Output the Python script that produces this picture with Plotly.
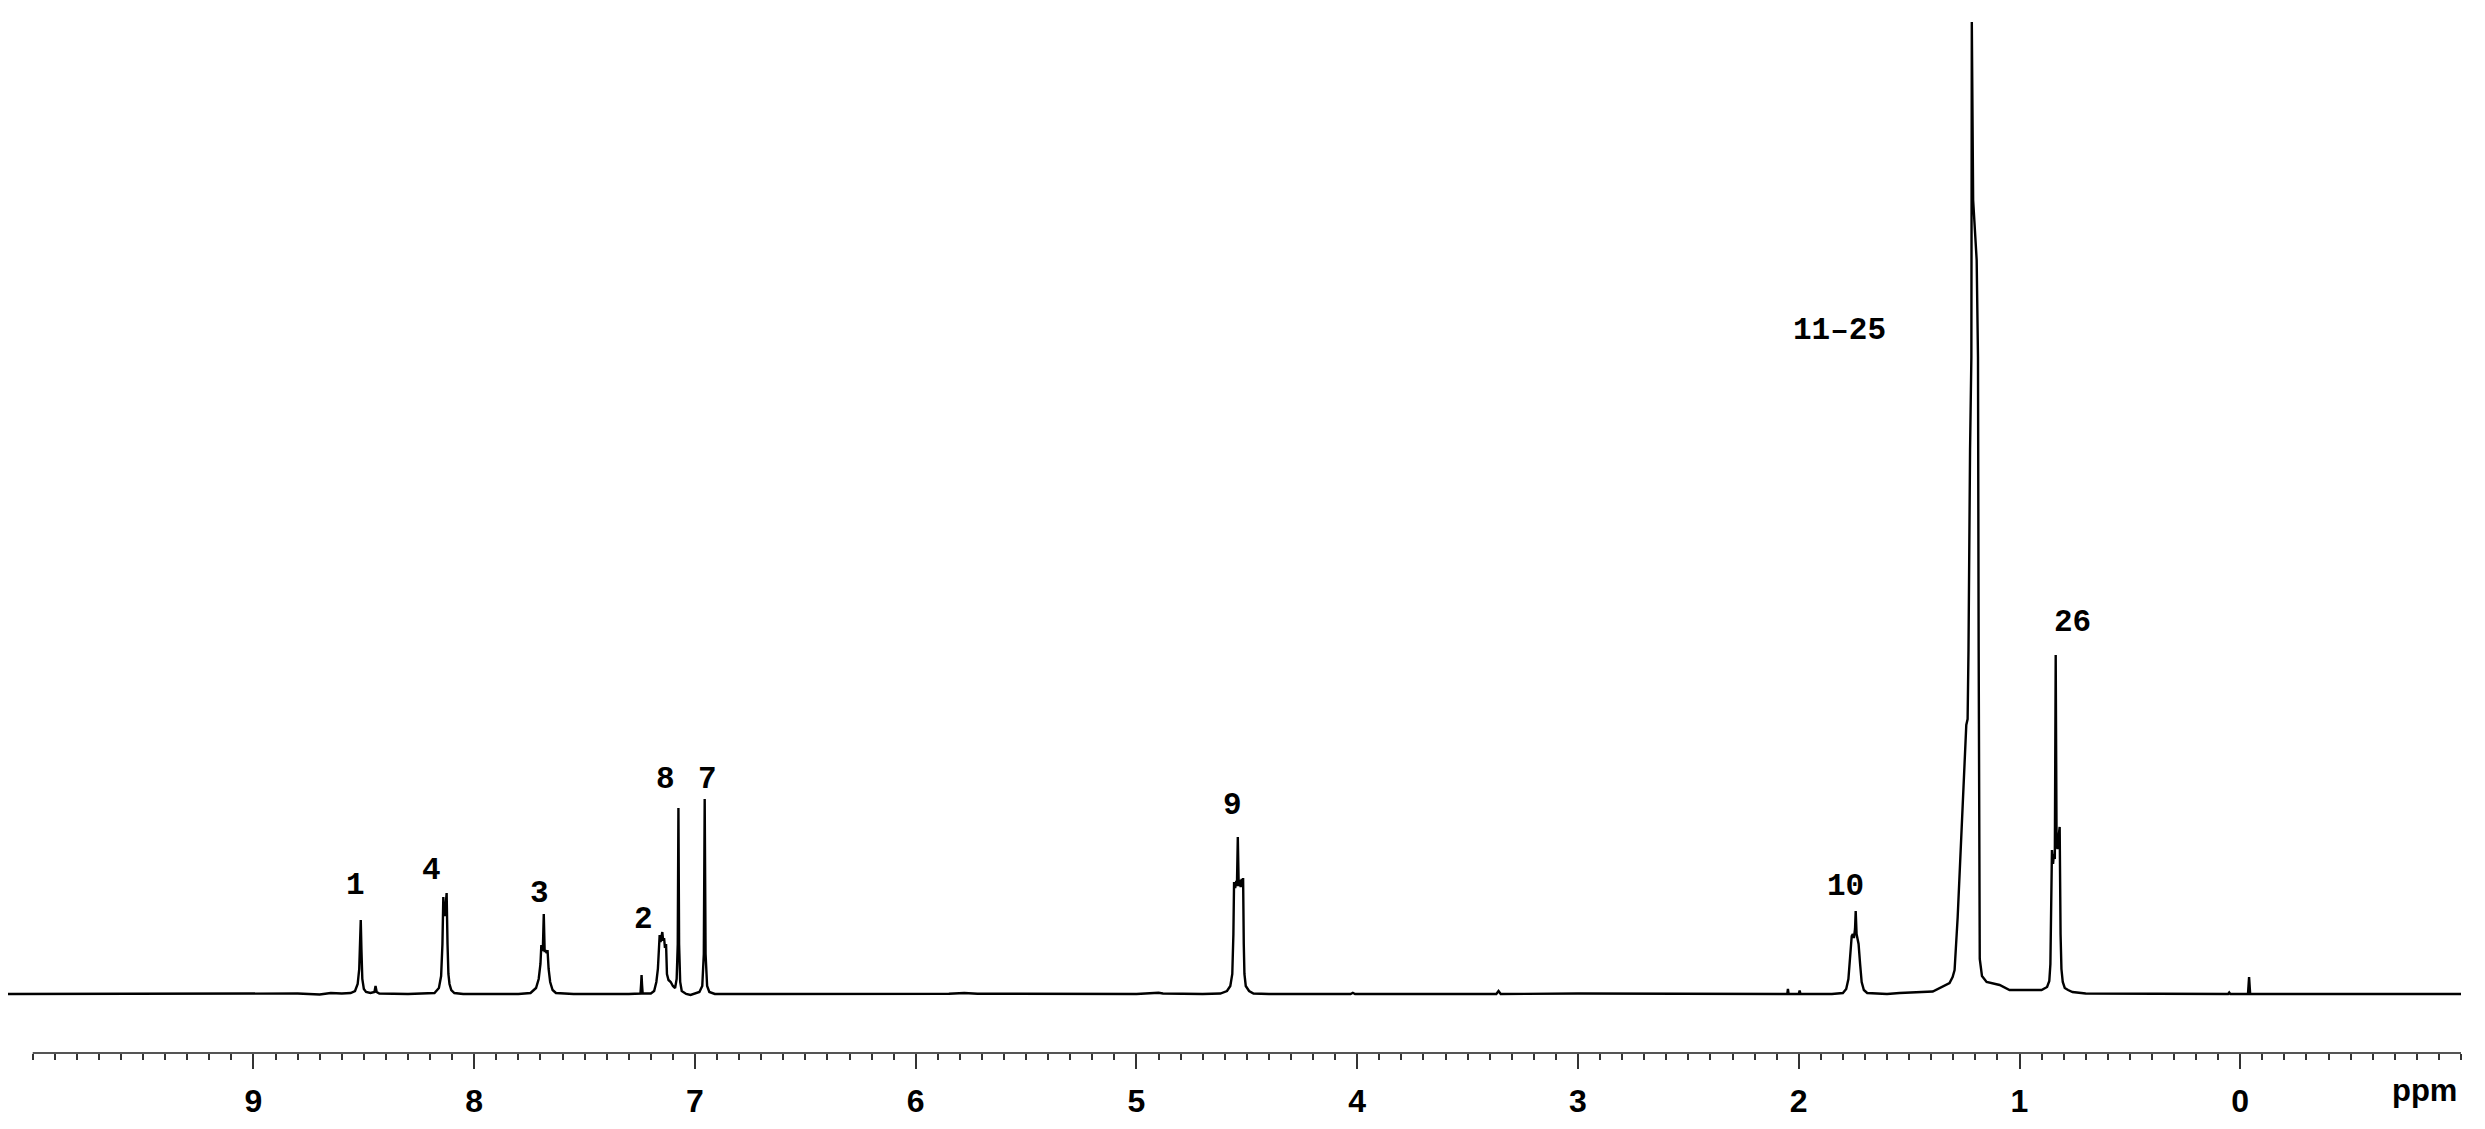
import plotly.graph_objects as go

base_left_ppm = [10.112, 9.50, 8.80, 8.70, 8.65, 8.60]
base_left_int = [0.0, 0.0, 0.05, -0.05, 0.1, 0.05]

h1_ppm = [8.56, 8.54, 8.528, 8.521, 8.517, 8.514, 8.511, 8.507, 8.500, 8.490, 8.470, 8.452, 8.447, 8.442, 8.430]
h1_int = [0.1, 0.3, 1.0, 2.5, 4.5, 7.4, 4.5, 1.5, 0.5, 0.2, 0.1, 0.2, 0.8, 0.2, 0.05]

h4_ppm = [8.30, 8.18, 8.160, 8.150, 8.144, 8.140, 8.137, 8.133, 8.129, 8.125, 8.121, 8.117, 8.112, 8.104, 8.090, 8.050]
h4_int = [0.0, 0.1, 0.6, 1.8, 5.0, 9.7, 8.0, 7.8, 9.0, 10.1, 5.0, 2.0, 1.0, 0.4, 0.1, 0.0]

h3_ppm = [7.80, 7.745, 7.72, 7.708, 7.700, 7.696, 7.692, 7.689, 7.685, 7.681, 7.676, 7.672, 7.668, 7.663, 7.656, 7.645, 7.63, 7.55]
h3_int = [0.0, 0.1, 0.6, 1.5, 3.0, 4.9, 4.3, 4.6, 8.0, 4.3, 4.3, 4.1, 4.4, 2.5, 1.2, 0.4, 0.1, 0.0]

h2_ppm = [7.30, 7.247, 7.244, 7.242, 7.240, 7.237, 7.20, 7.185, 7.175, 7.168, 7.160, 7.156, 7.152, 7.148,
          7.144, 7.140, 7.136, 7.131, 7.127, 7.120, 7.110, 7.100, 7.090]
h2_int = [0.0, 0.05, 1.0, 1.9, 1.0, 0.05, 0.05, 0.3, 1.2, 2.5, 5.9, 5.2, 5.7, 6.2,
          5.3, 5.6, 4.6, 5.0, 2.0, 1.4, 1.2, 0.8, 0.6]

h8_h7_ppm = [7.083, 7.078, 7.075, 7.072, 7.067, 7.060, 7.040, 7.020, 7.000, 6.980, 6.967, 6.960, 6.956,
             6.952, 6.945, 6.935, 6.910, 6.85]
h8_h7_int = [1.5, 5.0, 18.6, 5.0, 1.2, 0.3, 0.0, -0.1, 0.05, 0.2, 0.8, 4.0, 19.5,
             4.0, 0.8, 0.2, 0.0, 0.0]

base_mid_ppm = [6.50, 5.85, 5.78, 5.72, 5.00, 4.92, 4.90, 4.88, 4.80]
base_mid_int = [0.0, 0.03, 0.1, 0.03, 0.0, 0.05, 0.12, 0.05, 0.0]

h9_ppm = [4.70, 4.62, 4.59, 4.575, 4.566, 4.561, 4.558, 4.553, 4.548, 4.545, 4.541, 4.537, 4.533, 4.528,
          4.523, 4.519, 4.517, 4.514, 4.511, 4.505, 4.49, 4.47, 4.40]
h9_int = [0.0, 0.05, 0.3, 0.8, 2.0, 6.0, 11.2, 10.6, 11.3, 10.8, 15.7, 10.8, 11.4, 10.7,
          11.5, 10.9, 11.6, 5.0, 2.0, 0.8, 0.3, 0.05, 0.0]

base_mid2_ppm = [4.03, 4.02, 4.01, 3.37, 3.36, 3.35, 3.00, 2.60, 2.10, 2.052, 2.049, 2.046, 2.000, 1.996, 1.992]
base_mid2_int = [0.0, 0.12, 0.0, 0.0, 0.3, 0.0, 0.05, 0.05, 0.0, 0.0, 0.5, 0.0, 0.0, 0.35, 0.0]

h10_ppm = [1.85, 1.80, 1.785, 1.775, 1.768, 1.760, 1.755, 1.750, 1.745, 1.742, 1.738, 1.733, 1.729,
           1.722, 1.715, 1.705, 1.69, 1.60]
h10_int = [0.0, 0.1, 0.5, 1.5, 4.0, 5.8, 6.0, 5.6, 6.5, 8.3, 6.0, 5.4, 5.0,
           3.0, 1.2, 0.4, 0.1, 0.0]

h11_25_ppm = [1.543, 1.393, 1.317, 1.303, 1.294, 1.280, 1.264, 1.249, 1.241, 1.235, 1.231, 1.224, 1.218,
              1.216, 1.213, 1.210, 1.194, 1.188, 1.185, 1.183, 1.180, 1.170, 1.149, 1.090, 1.045, 0.950]
h11_25_int = [0.1, 0.25, 1.1, 1.7, 2.4, 7.7, 15.7, 24.4, 26.9, 27.5, 34.4, 54.4, 63.7,
              97.2, 80.0, 79.4, 73.4, 63.7, 34.4, 10.0, 3.5, 1.8, 1.2, 0.9, 0.4, 0.4]

h26_ppm = [0.900, 0.875, 0.865, 0.860, 0.857, 0.853, 0.848, 0.844, 0.840, 0.836, 0.832, 0.828, 0.824,
           0.818, 0.814, 0.810, 0.804, 0.795, 0.780, 0.760, 0.700]
h26_int = [0.4, 0.7, 1.3, 3.0, 8.0, 14.4, 13.0, 14.0, 13.5, 33.9, 15.0, 14.5, 15.5,
           16.7, 6.0, 2.5, 1.2, 0.6, 0.4, 0.2, 0.05]

tms_ppm = [0.30, 0.055, 0.050, 0.045, -0.035, -0.038, -0.040, -0.042, -0.045, -0.50, -1.0]
tms_int = [0.0, 0.0, 0.15, 0.0, 0.0, 1.0, 1.7, 1.0, 0.0, 0.0, 0.0]

# peak labels
label_text = ["1", "4", "3", "2", "8", "7", "9", "10", "11–25", "26"]
label_ppm = [8.536, 8.194, 7.706, 7.231, 7.134, 6.945, 4.563, 1.789, 1.815, 0.758]
label_int = [10.9, 12.4, 10.1, 7.5, 21.5, 21.5, 18.9, 10.8, 66.4, 37.2]

tick_ppm = [10, 9, 8, 7, 6, 5, 4, 3, 2, 1, 0, -1]
tick_text = ["", "9", "8", "7", "6", "5", "4", "3", "2", "1", "0", ""]

ppm = (base_left_ppm + h1_ppm + h4_ppm + h3_ppm + h2_ppm + h8_h7_ppm + base_mid_ppm + h9_ppm
       + base_mid2_ppm + h10_ppm + h11_25_ppm + h26_ppm + tms_ppm)
inten = (base_left_int + h1_int + h4_int + h3_int + h2_int + h8_h7_int + base_mid_int + h9_int
         + base_mid2_int + h10_int + h11_25_int + h26_int + tms_int)

fig = go.Figure()
fig.add_trace(go.Scatter(x=ppm, y=inten, mode="lines",
                         line=dict(color="black", width=2.4), hoverinfo="skip",
                         showlegend=False))

for t, xp, yp in zip(label_text, label_ppm, label_int):
    fig.add_annotation(x=xp, y=yp, text=t, showarrow=False,
                       font=dict(family="Liberation Mono, DejaVu Sans Mono, monospace",
                                 size=31, color="black", weight="bold"))

# axis line only spans 10 .. -1 ppm
fig.add_shape(type="line", xref="x", yref="paper", x0=10, x1=-1, y0=0, y1=0,
              line=dict(color="#555555", width=2))

fig.add_annotation(x=-0.835, y=-0.036, xref="x", yref="paper", text="ppm",
                   showarrow=False, yanchor="middle",
                   font=dict(family="Liberation Sans Narrow, Liberation Sans, Arial", size=31,
                             color="black", weight="bold"))

fig.update_xaxes(range=[10.112, -1.0], tickmode="array", tickvals=tick_ppm, ticktext=tick_text,
                 ticks="outside", ticklen=15, tickwidth=2, tickcolor="#333333",
                 showline=False, showgrid=False, zeroline=False, ticklabelstandoff=5,
                 tickfont=dict(family="Liberation Sans Narrow, Liberation Sans, Arial", size=32,
                               color="black", weight="bold"),
                 minor=dict(tickvals=[round(-1 + 0.1 * i, 1) for i in range(111)],
                            ticks="outside", ticklen=6, tickwidth=1.5, tickcolor="#333333",
                            showgrid=False))
fig.update_yaxes(range=[-5.9, 98.4], visible=False)

# page body has an 8 px margin, so the figure is 8 px smaller than the window
fig.update_layout(width=2477, height=1121, plot_bgcolor="white", paper_bgcolor="white",
                  margin=dict(l=0, r=24, t=2, b=76), showlegend=False)

fig.write_html("out.html")
